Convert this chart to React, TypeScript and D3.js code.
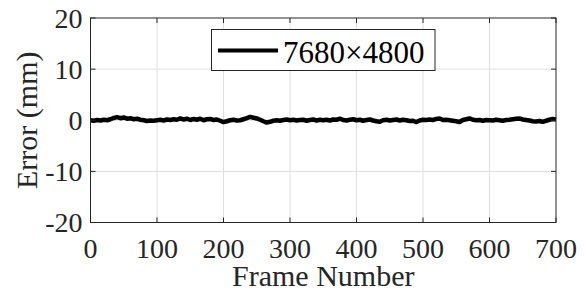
import React, { useRef, useEffect } from "react";
import * as d3 from "d3";

const width = 585;
const height = 300;
const margin = { top: 18, right: 29, bottom: 77.5, left: 90.5 };

const frameStep = 5;
const errorValues = [
  0.0, -0.1, 0.05, -0.05, 0.1, 0.0, 0.2, 0.45, 0.6, 0.4,
  0.55, 0.3, 0.4, 0.2, 0.3, 0.1, 0.0, -0.15, -0.05, -0.1,
  0.0, 0.1, -0.05, 0.15, 0.05, 0.2, 0.1, 0.35, 0.15, 0.3,
  0.05, 0.25, 0.1, 0.3, 0.0, 0.2, 0.25, 0.05, 0.15, -0.1,
  -0.35, -0.2, 0.0, 0.1, -0.05, 0.0, 0.2, 0.4, 0.65, 0.5,
  0.35, 0.1, -0.2, -0.45, -0.3, -0.1, 0.0, -0.1, 0.05, 0.15,
  0.0, 0.1, -0.05, 0.05, 0.1, -0.1, 0.05, 0.15, -0.05, 0.1,
  0.0, 0.1, -0.05, 0.15, 0.1, 0.3, 0.05, -0.05, 0.1, 0.2,
  0.0, 0.1, -0.1, 0.05, 0.15, -0.05, -0.2, -0.3, 0.0, 0.1,
  -0.05, 0.05, 0.15, -0.05, 0.1, 0.0, -0.15, -0.1, -0.35, -0.05,
  0.1, 0.05, 0.15, 0.05, 0.25, 0.35, 0.05, 0.1, 0.0, -0.1,
  -0.2, -0.35, 0.05, 0.2, 0.35, 0.1, 0.0, 0.05, -0.1, 0.05,
  0.0, -0.05, 0.1, 0.0, -0.1, 0.05, 0.1, 0.2, 0.3, 0.35,
  0.15, 0.05, -0.05, -0.2, -0.25, -0.15, -0.3, -0.1, 0.1, 0.25,
  0.15
];

const xTicks = [0, 100, 200, 300, 400, 500, 600, 700];
const yTicks = [-20, -10, 0, 10, 20];
const legendLabel = "7680\u00d74800";

const font = "'Liberation Serif', 'Times New Roman', serif";
const axisColor = "#262626";
const gridColor = "#dfdfdf";

export default function App() {
  const ref = useRef<SVGSVGElement | null>(null);

  useEffect(() => {
    const svg = d3.select(ref.current);
    svg.selectAll("*").remove();

    const x = d3
      .scaleLinear()
      .domain([0, 700])
      .range([margin.left, width - margin.right]);
    const y = d3
      .scaleLinear()
      .domain([-20, 20])
      .range([height - margin.bottom, margin.top]);

    svg.append("rect").attr("width", width).attr("height", height).attr("fill", "#fff");

    // grid
    const grid = svg.append("g").attr("stroke", gridColor).attr("stroke-width", 1);
    grid
      .selectAll("line.gx")
      .data(xTicks.slice(1, -1))
      .enter()
      .append("line")
      .attr("x1", (d) => x(d))
      .attr("x2", (d) => x(d))
      .attr("y1", y(-20))
      .attr("y2", y(20));
    grid
      .selectAll("line.gy")
      .data(yTicks.slice(1, -1))
      .enter()
      .append("line")
      .attr("x1", x(0))
      .attr("x2", x(700))
      .attr("y1", (d) => y(d))
      .attr("y2", (d) => y(d));

    // data line
    const line = d3
      .line<number>()
      .x((_, i) => x(i * frameStep))
      .y((d) => y(d));
    svg
      .append("path")
      .datum(errorValues)
      .attr("d", line)
      .attr("fill", "none")
      .attr("stroke", "#000")
      .attr("stroke-width", 4.5)
      .attr("stroke-linejoin", "round");

    // box + inward ticks
    const tickLen = 5;
    const axes = svg.append("g").attr("stroke", axisColor).attr("stroke-width", 1).attr("fill", "none");
    axes
      .append("rect")
      .attr("x", x(0))
      .attr("y", y(20))
      .attr("width", x(700) - x(0))
      .attr("height", y(-20) - y(20));
    xTicks.forEach((t) => {
      axes.append("line").attr("x1", x(t)).attr("x2", x(t)).attr("y1", y(-20)).attr("y2", y(-20) - tickLen);
      axes.append("line").attr("x1", x(t)).attr("x2", x(t)).attr("y1", y(20)).attr("y2", y(20) + tickLen);
    });
    yTicks.forEach((t) => {
      axes.append("line").attr("x1", x(0)).attr("x2", x(0) + tickLen).attr("y1", y(t)).attr("y2", y(t));
      axes.append("line").attr("x1", x(700)).attr("x2", x(700) - tickLen).attr("y1", y(t)).attr("y2", y(t));
    });

    // tick labels
    const labels = svg.append("g").attr("font-family", font).attr("fill", axisColor);
    labels
      .selectAll("text.xt")
      .data(xTicks)
      .enter()
      .append("text")
      .attr("x", (d) => x(d))
      .attr("y", y(-20) + 35)
      .attr("text-anchor", "middle")
      .attr("font-size", 28)
      .text((d) => String(d));
    labels
      .selectAll("text.yt")
      .data(yTicks)
      .enter()
      .append("text")
      .attr("x", x(0) - 8)
      .attr("y", (d) => y(d) + 9.5)
      .attr("text-anchor", "end")
      .attr("font-size", 28)
      .text((d) => String(d));

    // axis titles
    labels
      .append("text")
      .attr("x", (x(0) + x(700)) / 2)
      .attr("y", 286)
      .attr("text-anchor", "middle")
      .attr("font-size", 30)
      .text("Frame Number");
    labels
      .append("text")
      .attr("transform", `translate(37,${(y(20) + y(-20)) / 2}) rotate(-90)`)
      .attr("text-anchor", "middle")
      .attr("font-size", 30)
      .text("Error (mm)");

    // legend
    const lg = svg.append("g");
    lg.append("rect")
      .attr("x", 211.5)
      .attr("y", 29.5)
      .attr("width", 223.5)
      .attr("height", 41)
      .attr("fill", "#fff")
      .attr("stroke", axisColor)
      .attr("stroke-width", 1);
    lg.append("line")
      .attr("x1", 218)
      .attr("x2", 278)
      .attr("y1", 50.5)
      .attr("y2", 50.5)
      .attr("stroke", "#000")
      .attr("stroke-width", 4);
    lg.append("text")
      .attr("x", 283)
      .attr("y", 63)
      .attr("font-family", font)
      .attr("font-size", 31)
      .attr("fill", "#000")
      .text(legendLabel);
  }, []);

  return (
    <div style={{ position: "absolute", left: 0, top: 0 }}>
      <svg ref={ref} width={width} height={height} style={{ display: "block" }} />
    </div>
  );
}
